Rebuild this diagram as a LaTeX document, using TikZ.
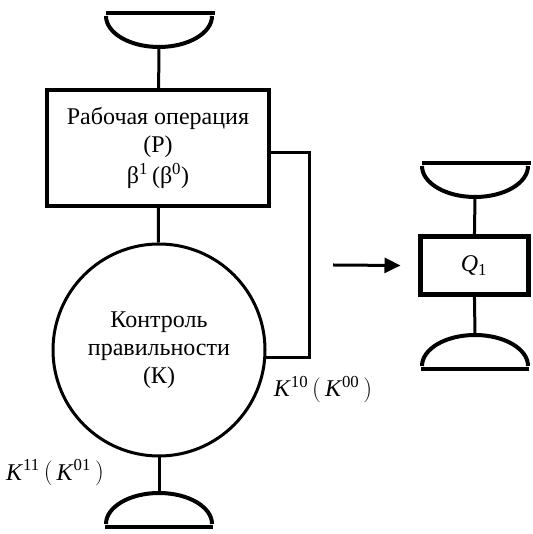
\documentclass[tikz,border=0pt]{standalone}
\usepackage{fontspec}
\setmainfont{Liberation Serif}
\usetikzlibrary{arrows.meta}
\tikzstyle{opbox} = [draw, line width=4pt, minimum width=222pt,
  minimum height=116pt, inner sep=2pt, align=center]
\tikzstyle{ctrl} = [draw, circle, line width=3pt, minimum size=212pt,
  inner sep=0pt, align=center]
\tikzstyle{qbox} = [draw, line width=5pt, minimum width=108pt,
  minimum height=58pt, inner sep=2pt, align=center]
\tikzstyle{edge} = [line width=3pt]
\tikzstyle{arrow} = [line width=3pt, -{Triangle[length=16pt,width=15pt]}]
\tikzset{
  bowldown/.pic={
    \draw[line width=4pt] (-53,31) arc[start angle=180,end angle=360,
      x radius=53,y radius=31];
    \draw[line width=4pt] (-53,34) -- (56,34);
  },
  bowlup/.pic={
    \draw[line width=4pt] (-53,-31) arc[start angle=180,end angle=0,
      x radius=53,y radius=31];
    \draw[line width=4pt] (-54,-34) -- (54,-34);
  }
}

\begin{document}
\begin{tikzpicture}[x=1pt,y=1pt,
    every node/.style={font=\fontsize{24}{28}\selectfont}]
    \useasboundingbox (0,0) rectangle (532,534);
    % left column
    \coordinate (inP) at (159,487);
    \pic at (inP) {bowldown};
    \node[opbox] (P) at (158,386)
        {Рабочая операция\\(Р)\\[3pt]β\textsuperscript{1}\,(β\textsuperscript{0})};
    \node[ctrl] (K) at (159,184)
        {Контроль\\правильности\\(К)};
    \coordinate (outK) at (159,41);
    \pic at (outK) {bowlup};
    \draw[edge] (inP) -- (P);
    \draw[edge] (P) -- (K);
    \draw[edge] (K) -- (outK);
    \draw[edge] ([yshift=-5pt]P.east) -- ++(38,0) |- (K.-4);
    \node (lbl10) at (323,144)
        {\textit{K}\textsuperscript{10}\,$\Bigl($\,\textit{K}\textsuperscript{00}\,$\Bigr)$};
    \node (lbl11) at (55,61)
        {\textit{K}\textsuperscript{11}\,$\Bigl($\,\textit{K}\textsuperscript{01}\,$\Bigr)$};
    % right column
    \coordinate (inQ) at (475,337);
    \pic at (inQ) {bowldown};
    \node[qbox] (Q) at (474,268.5) {\textit{Q}\textsubscript{1}};
    \coordinate (outQ) at (475,199);
    \pic at (outQ) {bowlup};
    \draw[edge] (inQ) -- (Q);
    \draw[edge] (Q) -- (outQ);
    \coordinate (a0) at (333,269);
    \draw[arrow] (a0) -- ([xshift=-17pt]Q.west);
\end{tikzpicture}
\end{document}
